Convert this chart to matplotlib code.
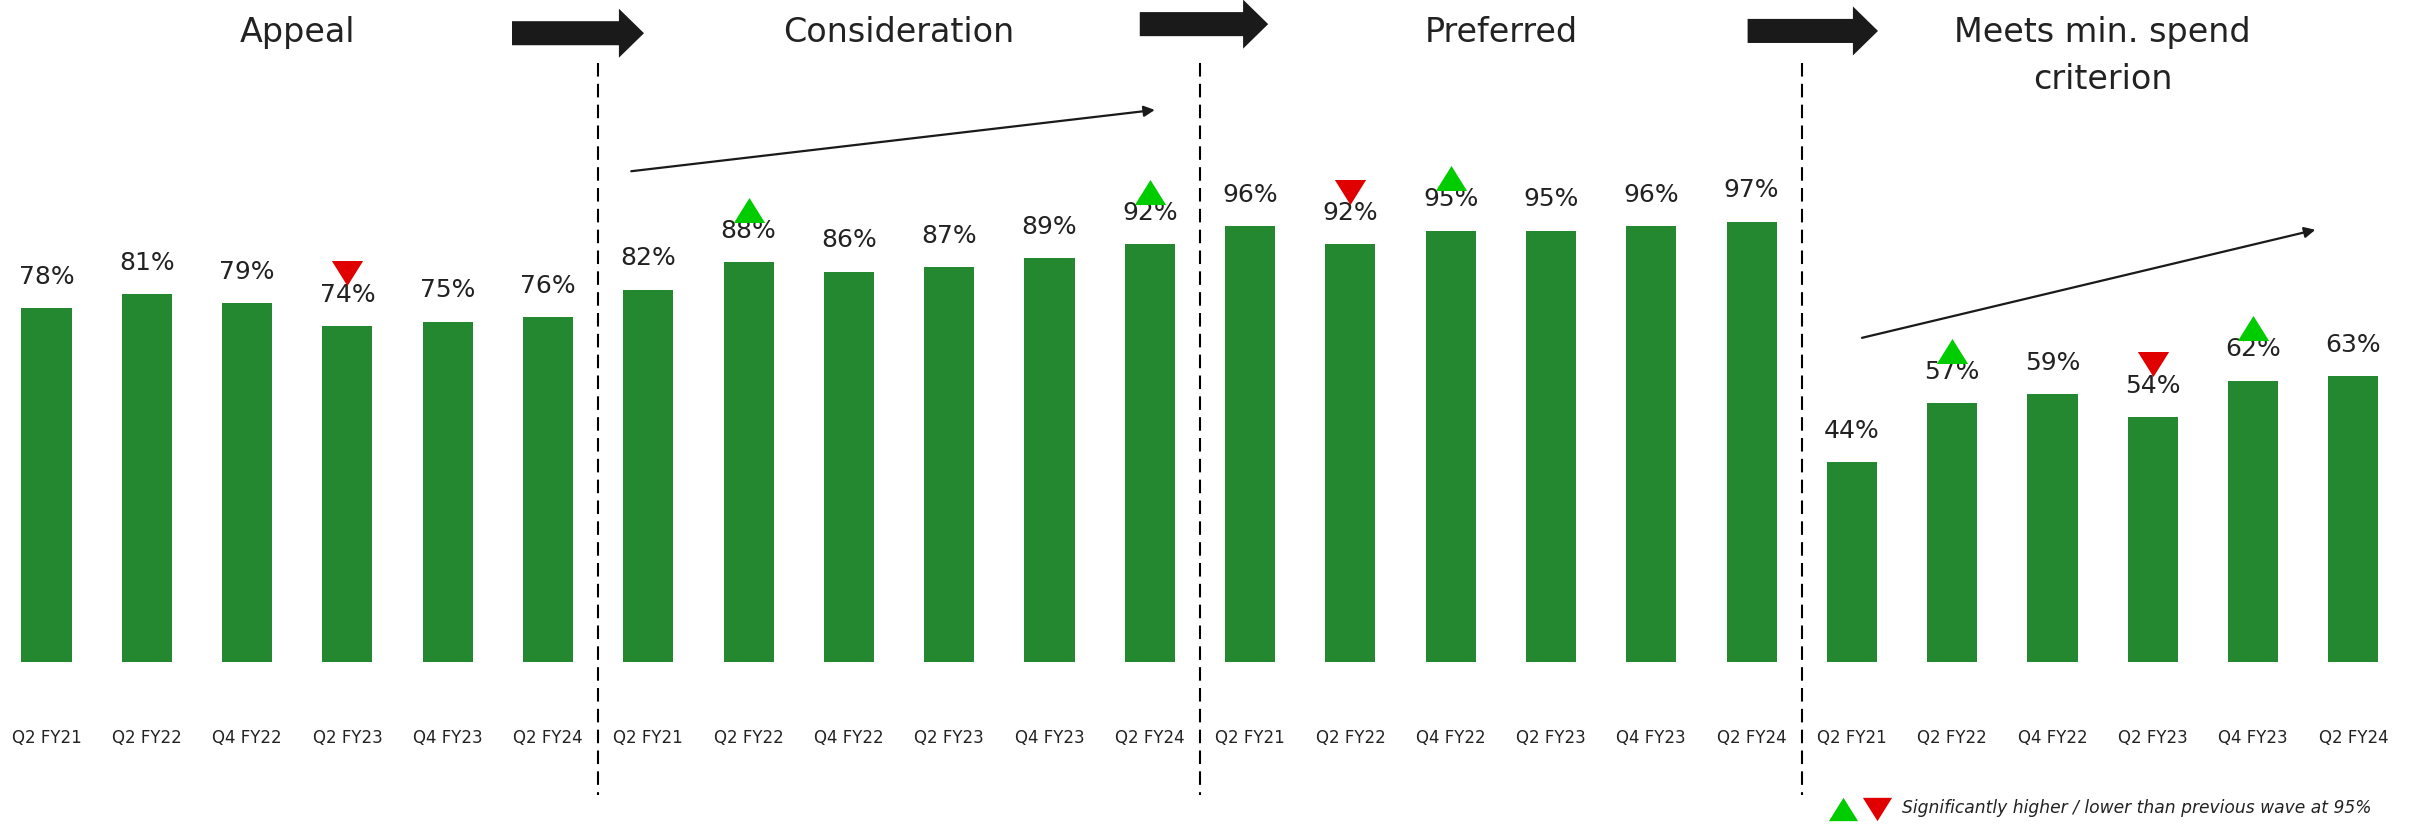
import matplotlib
matplotlib.use("Agg")
import matplotlib.pyplot as plt
from matplotlib.patches import FancyArrow
import numpy as np

# ---- data -------------------------------------------------------------
stages = ["Appeal", "Consideration", "Preferred", "Meets min. spend\ncriterion"]
waves = ["Q2 FY21", "Q2 FY22", "Q4 FY22", "Q2 FY23", "Q4 FY23", "Q2 FY24"]

appeal = [78, 81, 79, 74, 75, 76]
consideration = [82, 88, 86, 87, 89, 92]
preferred = [96, 92, 95, 95, 96, 97]
min_spend = [44, 57, 59, 54, 62, 63]

# significance vs previous wave: 1 = higher, -1 = lower, 0 = no change
sig_appeal = [0, 0, 0, -1, 0, 0]
sig_consideration = [0, 1, 0, 0, 0, 1]
sig_preferred = [0, -1, 1, 0, 0, 0]
sig_min_spend = [0, 1, 0, -1, 1, 0]

legend_text = "Significantly higher / lower than previous wave at 95%"

# ---- styling ----------------------------------------------------------
BAR = "#23882F"
UP = "#00CC00"
DOWN = "#E00000"
TXT = "#222222"
DARK = "#1A1A1A"

plt.rcParams["font.family"] = ["DejaVu Sans"]

values = appeal + consideration + preferred + min_spend
sigs = sig_appeal + sig_consideration + sig_preferred + sig_min_spend
n_per = len(waves)
x = np.arange(len(values))

fig = plt.figure(figsize=(24.15, 8.25), dpi=100)
ax = fig.add_axes([0, 163 / 825, 1, 454 / 825])
ax.set_xlim(-0.4636, 23.614)
ax.set_ylim(0, 100)
for s in ax.spines.values():
    s.set_visible(False)
ax.tick_params(left=False, labelleft=False, bottom=False, pad=44.5)
ax.set_xticks(x)
ax.set_xticklabels(waves * len(stages), fontsize=12, color=TXT)

ax.bar(x, values, width=0.5, color=BAR, zorder=2)

# value labels
for xi, v in zip(x, values):
    ax.annotate(f"{v}%", (xi, v), xytext=(0, 17.5), textcoords="offset points",
                ha="center", va="baseline", fontsize=18, color=TXT, zorder=3)

# significance triangles (wider than tall)
tri_up = [(-1, -0.8), (1, -0.8), (0, 0.8), (-1, -0.8)]
tri_dn = [(-1, 0.8), (1, 0.8), (0, -0.8), (-1, 0.8)]
for xi, v, s in zip(x, values, sigs):
    if s == 0:
        continue
    ax.plot(xi, v + 11.6, marker=tri_up if s > 0 else tri_dn, ms=22.5,
            color=UP if s > 0 else DOWN, mec="none", ls="none",
            zorder=5, clip_on=False)

# section separators
for k in range(1, len(stages)):
    xs = k * n_per - 0.5
    ax.plot([xs, xs], [131.9, -29.3], color="black", lw=1.5,
            dashes=(6.5, 3.5), clip_on=False, zorder=1)

# section titles
for k, name in enumerate(stages):
    xc = k * n_per + (n_per - 1) / 2
    lines = name.split("\n")
    ax.text(xc, 136.6, lines[0], ha="center", va="baseline",
            fontsize=24, color=TXT, clip_on=False)
    if len(lines) > 1:
        ax.text(xc, 126.3, lines[1], ha="center", va="baseline",
                fontsize=24, color=TXT, clip_on=False)

# block arrows between stage titles
for x0, x1, yc in [(4.641, 5.957, 138.5), (10.90, 12.18, 140.5), (16.96, 18.26, 139.0)]:
    ax.add_patch(FancyArrow(x0, yc, x1 - x0, 0, width=5.3, head_width=10.8,
                            head_length=0.25, length_includes_head=True,
                            color=DARK, lw=0, clip_on=False))

# trend arrows
for (xa, ya), (xb, yb) in [((5.83, 108.1), (11.05, 121.6)),
                           ((18.10, 71.4), (22.62, 95.2))]:
    ax.annotate("", xy=(xb, yb), xytext=(xa, ya),
                arrowprops=dict(arrowstyle="-|>", color=DARK, lw=1.6,
                                mutation_scale=16, shrinkA=0, shrinkB=0),
                annotation_clip=False)

# significance key
ax.plot(17.91, -32.4, marker=tri_up, ms=21, color=UP, mec="none", clip_on=False)
ax.plot(18.25, -32.4, marker=tri_dn, ms=21, color=DOWN, mec="none", clip_on=False)
ax.text(18.50, -32.2, legend_text, ha="left", va="center", fontsize=12.3,
        style="italic", color=TXT, clip_on=False)

fig.savefig("out.png", dpi=100)
